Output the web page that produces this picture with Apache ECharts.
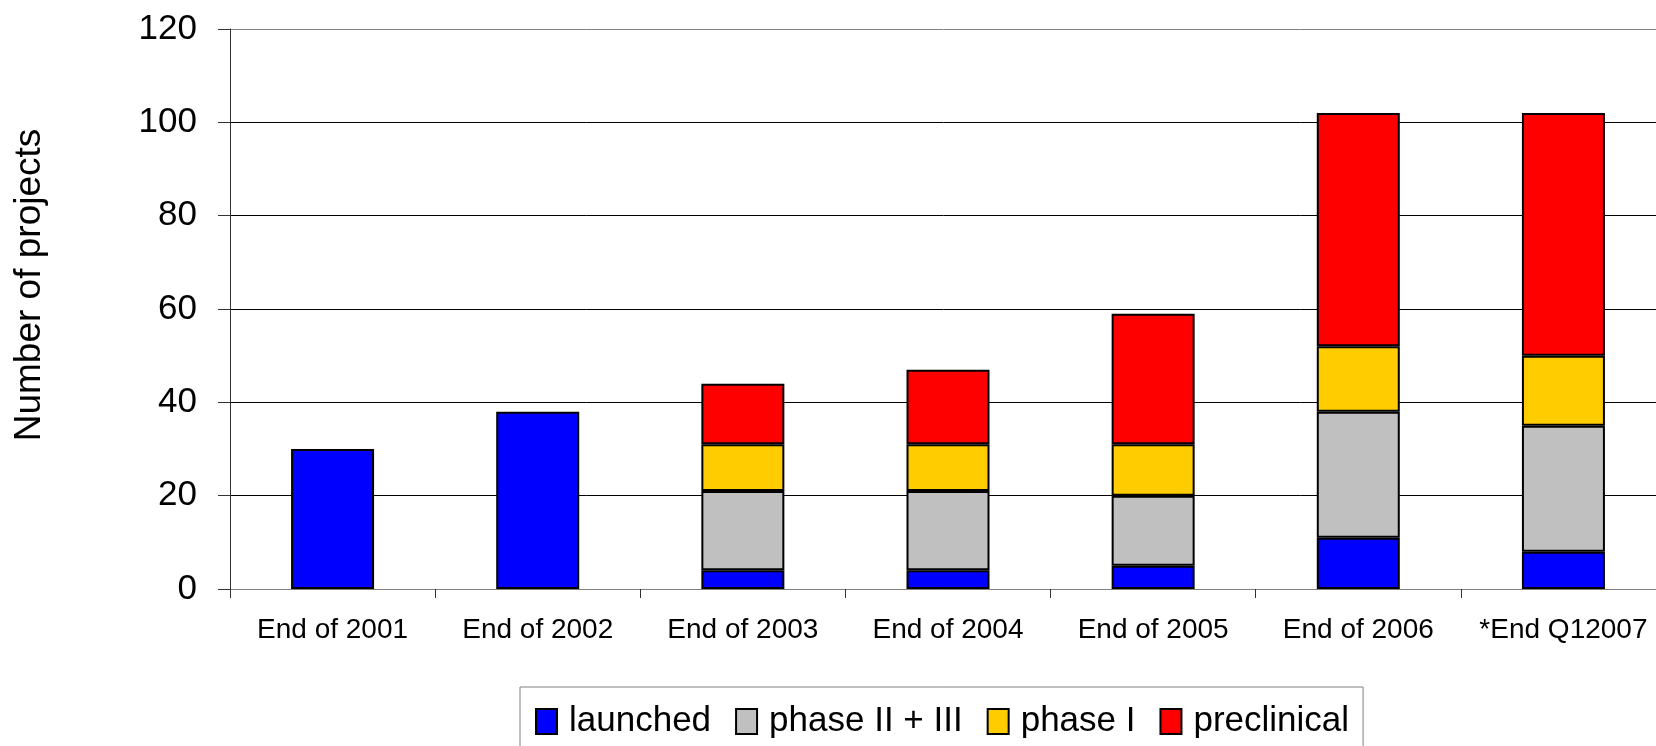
<!DOCTYPE html>
<html>
<head>
<meta charset="utf-8">
<script src="https://cdn.jsdelivr.net/npm/echarts@6/dist/echarts.min.js"></script>
<style>
html,body{margin:0;padding:0;background:#fff;}
#chart{width:1656px;height:746px;}
</style>
</head>
<body>
<div id="chart"></div>
<script>
const categories = ['End of 2001','End of 2002','End of 2003','End of 2004','End of 2005','End of 2006','*End Q12007'];
const launched    = [30, 38, 4, 4, 5, 11, 8];
const phase23     = [0, 0, 17, 17, 15, 27, 27];
const phase1      = [0, 0, 10, 10, 11, 14, 15];
const preclinical = [0, 0, 13, 16, 28, 50, 52];
const seriesNames = ['launched','phase II + III','phase I','preclinical'];
const seriesColors = ['#0000FF','#C0C0C0','#FFCC00','#FF0000'];
const yTicks = {min: 0, max: 120, interval: 20};

const FONT = '"Liberation Sans", Arial, sans-serif';
const chart = echarts.init(document.getElementById('chart'));
const dataSets = [launched, phase23, phase1, preclinical];

chart.setOption({
  animation: false,
  backgroundColor: '#fff',
  grid: {left: 230, width: 1436, top: 29, bottom: 157, containLabel: false, outerBoundsMode: 'none'},
  legend: {
    data: seriesNames,
    left: 520, top: 687,
    orient: 'horizontal',
    itemWidth: 21, itemHeight: 25, itemGap: 24,
    padding: [17, 14, 40, 15],
    borderColor: '#808080', borderWidth: 1,
    icon: 'rect',
    textStyle: {fontFamily: FONT, fontSize: 35, color: '#000', padding: [0, 0, 0, 7]}
  },
  graphic: [{
    type: 'text', x: 30, y: 285, rotation: Math.PI / 2,
    style: {text: 'Number of projects', fontFamily: FONT, fontSize: 37, fill: '#000', align: 'center', verticalAlign: 'middle'}
  }],
  xAxis: {
    type: 'category', data: categories,
    axisLine: {lineStyle: {color: '#808080', width: 1}},
    axisTick: {show: true, length: 9, lineStyle: {color: '#333'}},
    axisLabel: {fontFamily: FONT, fontSize: 28, color: '#000', margin: 27, interval: 0}
  },
  yAxis: {
    type: 'value', min: yTicks.min, max: yTicks.max, interval: yTicks.interval,
    axisLine: {show: true, lineStyle: {color: '#333', width: 1}},
    axisTick: {show: true, length: 12, lineStyle: {color: '#333'}},
    axisLabel: {fontFamily: FONT, fontSize: 35, color: '#000', margin: 33},
    splitLine: {show: true, lineStyle: {color: ['#808080','#000','#000','#000','#000','#000','#808080'], width: 1}}
  },
  series: seriesNames.map((n, i) => ({
    name: n, type: 'bar', stack: 'total', barWidth: 83,
    data: dataSets[i].map(v => v === 0 ? null : v),
    itemStyle: {color: seriesColors[i], borderColor: '#000', borderWidth: 2}
  }))
});
</script>
</body>
</html>
